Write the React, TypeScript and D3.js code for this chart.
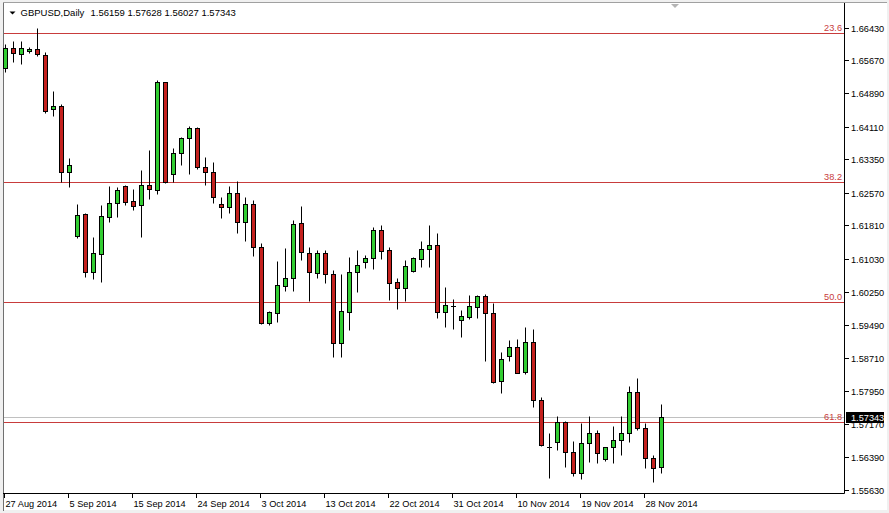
import React from "react";
import * as d3 from "d3";

const symbolTitle = "GBPUSD,Daily";
const headerValues = ["1.56159", "1.57628", "1.56027", "1.57343"];

const opens = [
  1.65491, 1.65958, 1.65804, 1.65874, 1.65928, 1.65788, 1.64520, 1.64597, 1.63062, 1.61561,
  1.62074, 1.60727, 1.61147, 1.62011, 1.62338, 1.62728, 1.62378, 1.62278, 1.62745, 1.62628,
  1.65150, 1.63002, 1.63492, 1.63842, 1.64083, 1.63179, 1.63048, 1.62301, 1.62245, 1.62572,
  1.61881, 1.62301, 1.61297, 1.59522, 1.59755, 1.60393, 1.60573, 1.61857, 1.61157, 1.60690,
  1.61157, 1.60666, 1.59055, 1.59793, 1.60713, 1.60960, 1.61040, 1.61701, 1.61234, 1.60479,
  1.60339, 1.60743, 1.61031, 1.61250, 1.61344, 1.59779, 1.59919, 1.59599, 1.59676, 1.59910,
  1.60159, 1.59755, 1.58174, 1.58758, 1.58975, 1.58378, 1.59078, 1.57731, 1.56640, 1.56743,
  1.57224, 1.56523, 1.56033, 1.56719, 1.56953, 1.56346, 1.56626, 1.56796, 1.56953, 1.57910,
  1.57070, 1.56369, 1.56159,
];
const highs = [
  1.66038, 1.66115, 1.66115, 1.65975, 1.66411, 1.65865, 1.64947, 1.64636, 1.63375, 1.62301,
  1.62091, 1.61530, 1.62278, 1.62735, 1.62698, 1.62752, 1.62658, 1.63102, 1.63569, 1.65204,
  1.65157, 1.63609, 1.63880, 1.64130, 1.64113, 1.63413, 1.63289, 1.62478, 1.62728, 1.62845,
  1.62478, 1.62401, 1.61390, 1.59816, 1.60984, 1.61273, 1.61934, 1.62261, 1.61297, 1.61234,
  1.61234, 1.60767, 1.60673, 1.61063, 1.61234, 1.61117, 1.61778, 1.61818, 1.61311, 1.60573,
  1.61000, 1.61063, 1.61444, 1.61818, 1.61624, 1.60363, 1.60089, 1.59833, 1.60183, 1.60183,
  1.60206, 1.60003, 1.58845, 1.59132, 1.59148, 1.59429, 1.59382, 1.57794, 1.56953, 1.57357,
  1.57240, 1.56773, 1.57187, 1.57357, 1.57030, 1.56633, 1.57123, 1.57357, 1.58058, 1.58237,
  1.57201, 1.56446, 1.57628,
];
const lows = [
  1.65398, 1.65631, 1.65585, 1.65827, 1.65757, 1.64426, 1.64370, 1.62829, 1.62712, 1.61507,
  1.60610, 1.60556, 1.60493, 1.61895, 1.62011, 1.62285, 1.62168, 1.61544, 1.62418, 1.62535,
  1.62791, 1.62829, 1.63219, 1.63002, 1.63118, 1.62752, 1.62338, 1.61974, 1.62105, 1.61638,
  1.61451, 1.61101, 1.59506, 1.59482, 1.59559, 1.60283, 1.60283, 1.61000, 1.60043, 1.60573,
  1.60470, 1.58742, 1.58728, 1.59365, 1.60260, 1.60806, 1.60783, 1.61024, 1.60066, 1.59849,
  1.60050, 1.60727, 1.60830, 1.60830, 1.59639, 1.59442, 1.59389, 1.59209, 1.59615, 1.59639,
  1.58641, 1.58135, 1.57887, 1.58649, 1.58354, 1.58331, 1.57574, 1.56663, 1.55902, 1.56563,
  1.56173, 1.55963, 1.55886, 1.56290, 1.56252, 1.56313, 1.56266, 1.56446, 1.56757, 1.57030,
  1.56136, 1.55823, 1.56027,
];
const closes = [
  1.65944, 1.65827, 1.65944, 1.65928, 1.65804, 1.64487, 1.64597, 1.63062, 1.63212, 1.62044,
  1.60727, 1.61157, 1.62021, 1.62324, 1.62635, 1.62362, 1.62268, 1.62745, 1.62651, 1.65150,
  1.62829, 1.63492, 1.63842, 1.64083, 1.63179, 1.63048, 1.62464, 1.62245, 1.62558, 1.61881,
  1.62301, 1.61297, 1.59536, 1.59779, 1.60416, 1.60573, 1.61834, 1.61180, 1.60713, 1.61157,
  1.60666, 1.59055, 1.59809, 1.60713, 1.60883, 1.61040, 1.61701, 1.61217, 1.60456, 1.60353,
  1.60860, 1.61040, 1.61250, 1.61344, 1.59779, 1.59942, 1.59925, 1.59692, 1.59926, 1.60159,
  1.59755, 1.58158, 1.58681, 1.58975, 1.58368, 1.59078, 1.57731, 1.56680, 1.56630, 1.57224,
  1.56523, 1.56033, 1.56719, 1.56953, 1.56486, 1.56626, 1.56796, 1.56953, 1.57910, 1.57070,
  1.56369, 1.56136, 1.57343,
];

const dateTickLabels = [
  "27 Aug 2014", "5 Sep 2014", "15 Sep 2014", "24 Sep 2014", "3 Oct 2014", "13 Oct 2014",
  "22 Oct 2014", "31 Oct 2014", "10 Nov 2014", "19 Nov 2014", "28 Nov 2014",
];
const dateTickBars = [0, 8, 16, 24, 32, 40, 48, 56, 64, 72, 80];

const priceTickLabels = [
  "1.66430", "1.65670", "1.64890", "1.64110", "1.63350", "1.62570", "1.61810", "1.61030",
  "1.60250", "1.59490", "1.58710", "1.57950", "1.57170", "1.56390", "1.55630",
];

const fibLabels = ["23.6", "38.2", "50.0", "61.8"];
const fibPrices = [1.66293, 1.62824, 1.60020, 1.57216];

const lastPrice = 1.57343;

const W = 889;
const H = 513;
const AXIS_X = 844;
const AXIS_Y = 493;
const FONT = "Tahoma, 'Liberation Sans', Arial, sans-serif";
const BULL = "#32cd32";
const BEAR = "#c4211e";
const FIB = "#c83c3c";

export default function App() {
  const n = opens.length;
  const x = d3.scaleLinear().domain([0, n - 1]).range([5.3, 661.3]);
  const y = d3.scaleLinear().domain([1.5563, 1.6643]).range([490, 27.5]);
  const cxOf = (i: number) => Math.floor(x(i)) + 0.5;
  const sy = (v: number) => Math.round(y(v)) + 0.5;

  const candles = d3.range(n).map((i) => {
    const o = opens[i], h = highs[i], l = lows[i], c = closes[i];
    const cx = cxOf(i);
    const yo = sy(o), yc = sy(c);
    const top = Math.min(yo, yc), bot = Math.max(yo, yc);
    const up = c >= o;
    return (
      <g key={i}>
        <line x1={cx} x2={cx} y1={sy(h)} y2={sy(l)} stroke="#000" strokeWidth={1} />
        {bot - top < 1 ? (
          <line x1={cx - 2.5} x2={cx + 2.5} y1={top} y2={top} stroke="#000" strokeWidth={1} />
        ) : (
          <rect x={cx - 2} y={top} width={4} height={bot - top} fill={up ? BULL : BEAR} stroke="#000" strokeWidth={1} />
        )}
      </g>
    );
  });

  const lastY = sy(lastPrice);

  return (
    <svg
      width={W}
      height={H}
      style={{ position: "absolute", left: 0, top: 0, display: "block" }}
      fontFamily={FONT}
    >
      <rect x={0} y={0} width={W} height={H} fill="#f0f0f0" />
      <rect x={3} y={3} width={884} height={507} fill="#ffffff" />
      <line x1={3.5} x2={3.5} y1={2} y2={511} stroke="#707070" />
      <line x1={3} x2={887} y1={2.5} y2={2.5} stroke="#a0a0a0" />

      {/* header */}
      <path d="M9.5,11.5 L15.5,11.5 L12.5,14.5 Z" fill="#000" />
      <text x={20.5} y={16.3} fontSize={9.5} fill="#000">{symbolTitle}</text>
      <text x={90.5} y={16.3} fontSize={9.5} fill="#000">{headerValues.join(" ")}</text>
      <path d="M671,4 L679,4 L675,8 Z" fill="#b4b4b4" />

      {/* current price line */}
      <line x1={4} x2={AXIS_X} y1={lastY} y2={lastY} stroke="#c0c0c0" strokeWidth={1} />

      {/* fibonacci levels */}
      {fibPrices.map((p, i) => (
        <g key={fibLabels[i]}>
          <line x1={4} x2={AXIS_X} y1={sy(p)} y2={sy(p)} stroke={FIB} strokeWidth={1} />
          <text x={AXIS_X - 2} y={sy(p) - 2.5} fontSize={9.2} fill={FIB} textAnchor="end">
            {fibLabels[i]}
          </text>
        </g>
      ))}

      {candles}

      {/* axes */}
      <line x1={AXIS_X + 0.5} x2={AXIS_X + 0.5} y1={3} y2={AXIS_Y + 0.5} stroke="#000" />
      <line x1={3} x2={AXIS_X + 0.5} y1={AXIS_Y + 0.5} y2={AXIS_Y + 0.5} stroke="#000" />

      {priceTickLabels.map((t) => {
        const ty = Math.round(y(+t)) + 0.5;
        return (
          <g key={t}>
            <line x1={AXIS_X + 1} x2={AXIS_X + 5} y1={ty} y2={ty} stroke="#000" />
            <text x={AXIS_X + 7} y={ty + 3.5} fontSize={9.2} fill="#000">{t}</text>
          </g>
        );
      })}

      {/* last price tag */}
      <rect x={846} y={lastY - 5.5} width={38} height={11} fill="#000" />
      <text x={AXIS_X + 7} y={lastY + 3.5} fontSize={9.2} fill="#fff">{lastPrice.toFixed(5)}</text>

      {dateTickBars.map((b, i) => {
        const tx = cxOf(b) - 1;
        return (
          <g key={dateTickLabels[i]}>
            <line x1={tx} x2={tx} y1={AXIS_Y + 1} y2={AXIS_Y + 5} stroke="#000" />
            <text x={tx + 1} y={506.5} fontSize={9.2} fill="#000">{dateTickLabels[i]}</text>
          </g>
        );
      })}
    </svg>
  );
}
